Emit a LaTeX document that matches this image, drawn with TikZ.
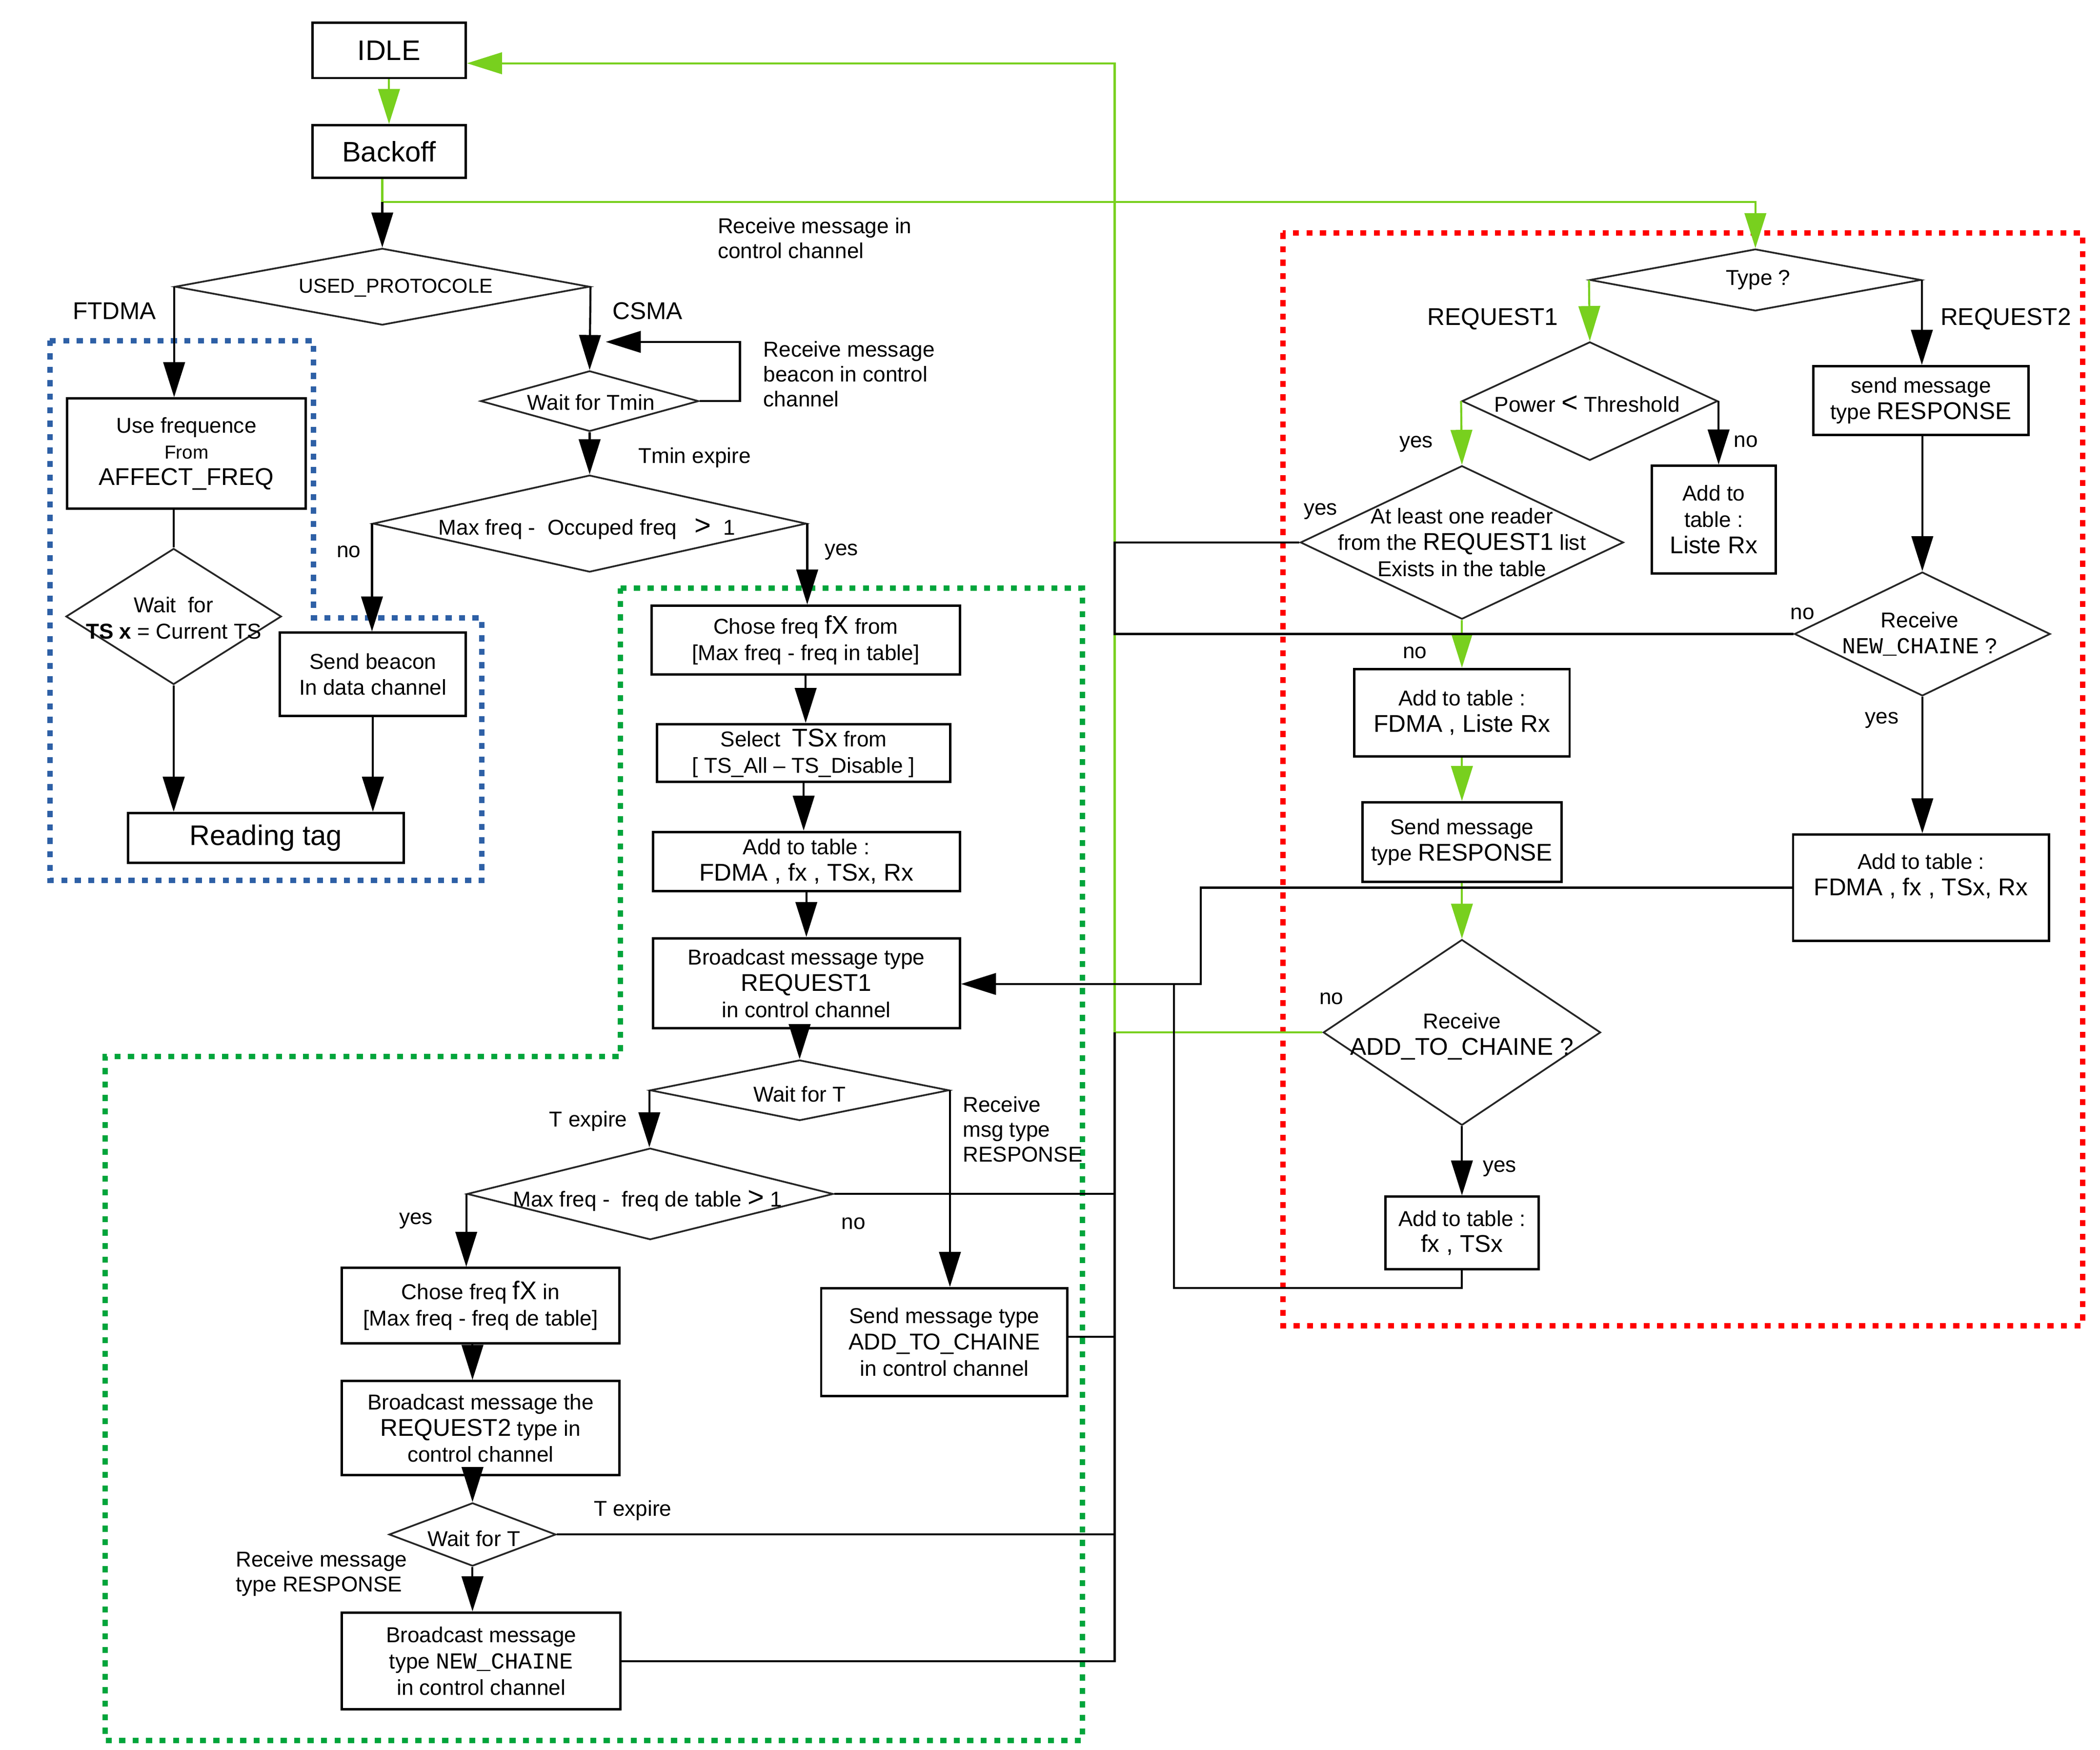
\documentclass[tikz,border=0pt]{standalone}
\usepackage{fontspec}
\setmainfont{Liberation Sans}
\newfontfamily\monof{Liberation Mono}
\usetikzlibrary{shapes.geometric,arrows.meta}
\definecolor{lgreen}{RGB}{120,208,30}
\definecolor{dgreen}{RGB}{0,165,60}
\definecolor{dblue}{RGB}{46,96,166}
\definecolor{dred}{RGB}{255,0,0}
\newcommand\fsz[1]{\fontsize{#1}{#1}\selectfont}
\tikzset{
  box/.style={draw, line width=1.8pt, fill=white, inner sep=0pt, align=center,
     font=\fontsize{16}{19.5}\selectfont},
  dia/.style={diamond, draw=black!85, line width=1.3pt, inner sep=0pt},
  dtxt/.style={inner sep=0pt, align=center, font=\fontsize{16}{19.5}\selectfont},
  lbl/.style={inner sep=0pt, align=left, font=\fontsize{16}{18.5}\selectfont},
  biglbl/.style={inner sep=0pt, font=\fontsize{18}{20}\selectfont},
  conn/.style={line width=1.5pt, -{Triangle[length=26pt,width=16pt]}},
  cline/.style={line width=1.5pt},
  gline/.style={line width=1.5pt, draw=lgreen},
  gconn/.style={gline, -{Triangle[length=26pt,width=16pt]}},
  dotbox/.style={line width=4pt, dash pattern=on 4.5pt off 5.5pt},
}
\begin{document}
\begin{tikzpicture}[x=1pt,y=-1pt]
\useasboundingbox (0,0) rectangle (1560,1300);

% dotted group frames
\draw[dotbox, draw=dblue] (37,253) -- (233,253) -- (233,459) -- (358,459) -- (358,654) -- (37,654) -- cycle;
\draw[dotbox, draw=dgreen] (461,437) -- (804,437) -- (804,1293) -- (78,1293) -- (78,785) -- (461,785) -- cycle;
\draw[dotbox, draw=dred] (953,173) rectangle (1547,985);

% boxes
\node[box, minimum width=114pt, minimum height=41pt, font=\fsz{21}] (idle) at (289,37.5) {IDLE};
\node[box, minimum width=114pt, minimum height=39pt, font=\fsz{21}] (back) at (289,112.5) {Backoff};
\node[box, minimum width=177pt, minimum height=82pt] (usefreq) at (138.5,337) {Use frequence\\{\fsz{14}From}\\{\fsz{18}AFFECT\_FREQ}};
\node[box, minimum width=205pt, minimum height=37pt, font=\fsz{21}] (reading) at (197.5,622.5) {Reading tag};
\node[box, minimum width=138pt, minimum height=62pt] (beacon) at (277,501) {Send beacon\\In data channel};
\node[box, minimum width=229pt, minimum height=51pt] (chose1) at (598.5,475.5) {Chose freq {\fsz{19}fX} from\\{[Max freq - freq in table]}};
\node[box, minimum width=218pt, minimum height=43pt] (select) at (597,559.5) {Select\ \ {\fsz{19}TSx} from\\{[ TS\_All – TS\_Disable ]}};
\node[box, minimum width=228pt, minimum height=44pt] (addt1) at (599,640) {Add to table :\\{\fsz{18}FDMA , fx , TSx, Rx}};
\node[box, minimum width=228pt, minimum height=67pt] (bcast1) at (599,730.5) {Broadcast message type\\{\fsz{18}REQUEST1}\\in control channel};
\node[box, minimum width=206pt, minimum height=56pt] (chose2) at (357,970) {Chose freq {\fsz{19}fX} in\\{[Max freq - freq de table]}};
\node[box, minimum width=206pt, minimum height=70pt] (bcast2) at (357,1061) {Broadcast message the\\{\fsz{18}REQUEST2} type in\\control channel};
\node[box, minimum width=207pt, minimum height=72pt] (bcastnc) at (357.5,1234) {Broadcast message\\type {\monof\fsz{17}NEW\_CHAINE}\\in control channel};
\node[box, minimum width=183pt, minimum height=80pt] (sendatc) at (701.5,997) {Send message type\\{\fsz{17}ADD\_TO\_CHAINE}\\in control channel};
\node[box, minimum width=92pt, minimum height=80pt] (addliste) at (1273,386) {Add to\\table :\\{\fsz{18}Liste Rx}};
\node[box, minimum width=160pt, minimum height=51pt] (sendresp1) at (1427,297.5) {send message\\type {\fsz{18}RESPONSE}};
\node[box, minimum width=160pt, minimum height=65pt] (addfl) at (1086,529.5) {Add to table :\\{\fsz{18}FDMA , Liste Rx}};
\node[box, minimum width=148pt, minimum height=59pt] (sendresp2) at (1086,625.5) {Send message\\type {\fsz{18}RESPONSE}};
\node[box, minimum width=190pt, minimum height=79pt] (addffx) at (1427,659.5) {Add to table :\\{\fsz{18}FDMA , fx , TSx, Rx}\\\mbox{}};
\node[box, minimum width=114pt, minimum height=54pt] (addfxts) at (1086,916) {Add to table :\\{\fsz{18}fx , TSx}};

% diamonds
\node[dia, minimum width=308pt, minimum height=57pt] (dproto) at (284,213) {};
\node[dtxt, font=\fsz{15}] (tproto) at (294,214) {USED\_PROTOCOLE};
\node[dia, minimum width=162pt, minimum height=45pt] (dtmin) at (438,298) {};
\node[dtxt] (ttmin) at (439,299) {Wait for Tmin};
\node[dia, minimum width=322pt, minimum height=72pt] (dmax1) at (438,389) {};
\node[dtxt] (tmax1) at (436,393) {Max freq -\ \ Occuped freq\ \ \ {\fsz{21}>}\ \ 1};
\node[dia, minimum width=160pt, minimum height=101pt] (dwts) at (129,458) {};
\node[dtxt] (twts) at (129,459) {Wait\ \ for\\{\bfseries TS x} = Current TS};
\node[dia, minimum width=222pt, minimum height=45pt] (dwt1) at (594,810) {};
\node[dtxt] (twt1) at (594,813) {Wait for T};
\node[dia, minimum width=272pt, minimum height=68pt] (dmax2) at (483,887) {};
\node[dtxt] (tmax2) at (481,892) {Max freq -\ \ freq de table {\fsz{21}>} 1};
\node[dia, minimum width=124pt, minimum height=47pt] (dwt2) at (351,1140) {};
\node[dtxt] (twt2) at (352,1143) {Wait for T};
\node[dia, minimum width=246pt, minimum height=46pt] (dtype) at (1304,208) {};
\node[dtxt] (ttype) at (1306,208) {Type ?};
\node[dia, minimum width=190pt, minimum height=88pt] (dpow) at (1181,298) {};
\node[dtxt] (tpow) at (1179,300) {Power {\fsz{21}<} Threshold};
\node[dia, minimum width=240pt, minimum height=114pt] (dleast) at (1086,403) {};
\node[dtxt] (tleast) at (1086,403) {At least one reader\\from the {\fsz{18}REQUEST1} list\\Exists in the table};
\node[dia, minimum width=190pt, minimum height=92pt] (dnewch) at (1428,471) {};
\node[dtxt] (tnewch) at (1426,471) {Receive\\{\monof\fsz{17}NEW\_CHAINE} ?};
\node[dia, minimum width=206pt, minimum height=138pt] (dadd) at (1086,767) {};
\node[dtxt] (tadd) at (1086,770) {Receive\\{\fsz{18}ADD\_TO\_CHAINE ?}};

% labels
\node[lbl, anchor=west] (lrmcc) at (533,177) {Receive message in\\control channel};
\node[lbl, anchor=west] (lrmb) at (567,278) {Receive message\\beacon in control\\channel};
\node[biglbl] (lftdma) at (85,231) {FTDMA};
\node[biglbl] (lcsma) at (481,231) {CSMA};
\node[lbl] (ltmin) at (516,340) {Tmin expire};
\node[lbl] (lno1) at (259,410) {no};
\node[lbl] (lyes1) at (625,410) {yes};
\node[lbl] (ltexp1) at (437,833) {T expire};
\node[lbl, anchor=west] (lrmr) at (715,839) {Receive\\msg type\\RESPONSE};
\node[lbl] (lyes2) at (309,907) {yes};
\node[lbl] (lno2) at (634,909) {no};
\node[lbl] (ltexp2) at (470,1122) {T expire};
\node[lbl, anchor=west] (lrmtr) at (175,1169) {Receive message\\type RESPONSE};
\node[biglbl] (lreq1) at (1109,237) {REQUEST1};
\node[biglbl] (lreq2) at (1490,237) {REQUEST2};
\node[lbl] (lyes3) at (1052,330) {yes};
\node[lbl] (lno3) at (1297,328) {no};
\node[lbl] (lyes4) at (981,380) {yes};
\node[lbl] (lno4) at (1051,485) {no};
\node[lbl] (lno5) at (1339,456) {no};
\node[lbl] (lyes5) at (1398,535) {yes};
\node[lbl] (lno6) at (989,742) {no};
\node[lbl] (lyes6) at (1114,868) {yes};

% helper coordinates
\coordinate (j1) at (284,150);
\coordinate (xr) at (828,47);
\coordinate (tl) at (450,254);
\coordinate (k1) at (892,731);
\coordinate (k2) at (872,957);

% green connectors
\draw[gconn] (idle.south) -- (back.north);
\draw[gline] (j1 |- back.south) -- (j1);
\draw[gconn] (j1) -- (j1 -| dtype.north) -- (dtype.north);
\draw[gconn] (dadd.west -| xr) -- (xr) -- (xr -| idle.east);
\draw[gline] (dadd.west) -- (dadd.west -| xr);
\draw[gconn] (dtype.west) -- (dpow.north);
\draw[gconn] (dpow.west) -- (dleast.north);
\draw[gconn] (dleast.south) -- (addfl.north);
\draw[gconn] (addfl.south) -- (sendresp2.north);
\draw[gconn] (sendresp2.south) -- (dadd.north);

% black connectors
\draw[conn] (j1) -- (dproto.north);
\draw[conn] (dproto.west) -- (dproto.west |- usefreq.north);
\draw[cline] (dwts.north |- usefreq.south) -- (dwts.north);
\draw[conn] (dwts.south) -- (dwts.south |- reading.north);
\draw[conn] (dproto.east) -- (dtmin.north);
\draw[conn] (dtmin.east) -- ++(30,0) |- (tl);
\draw[conn] (dtmin.south) -- (dmax1.north);
\draw[conn] (dmax1.west) -- (dmax1.west |- beacon.north);
\draw[conn] (beacon.south) -- (beacon.south |- reading.north);
\draw[conn] (dmax1.east) -- (dmax1.east |- chose1.north);
\draw[conn] (chose1.south) -- (chose1.south |- select.north);
\draw[conn] (select.south) -- (select.south |- addt1.north);
\draw[conn] (addt1.south) -- (addt1.south |- bcast1.north);
\draw[conn] (dwt1.north |- bcast1.south) -- (dwt1.north);
\draw[conn] (dwt1.west) -- (dwt1.west |- dmax2.north);
\draw[conn] (dwt1.east) -- (dwt1.east |- sendatc.north);
\draw[conn] (dmax2.west) -- (dmax2.west |- chose2.north);
\draw[conn] (dwt2.north |- chose2.south) -- (dwt2.north |- bcast2.north);
\draw[conn] (dwt2.north |- bcast2.south) -- (dwt2.north);
\draw[conn] (dwt2.south) -- (dwt2.south |- bcastnc.north);
\draw[cline] (dmax2.east) -- (dmax2.east -| xr);
\draw[cline] ([yshift=4pt]sendatc.east) -- ([yshift=4pt]sendatc.east -| xr);
\draw[cline] (dwt2.east) -- (dwt2.east -| xr);
\draw[cline] (bcastnc.east) -- (bcastnc.east -| xr) -- (xr |- dadd.west);
\draw[cline] (dleast.west) -- (dleast.west -| xr) -- (xr |- dnewch.west) -- (dnewch.west);
\draw[conn] (dtype.east) -- (dtype.east |- sendresp1.north);
\draw[conn] (dpow.east) -- (dpow.east |- addliste.north);
\draw[conn] (dadd.south) -- (addfxts.north);
\draw[conn] (dnewch.north |- sendresp1.south) -- (dnewch.north);
\draw[conn] (dnewch.south) -- (dnewch.south |- addffx.north);
\draw[conn] (addffx.west) -| (k1) -- (k1 -| bcast1.east);
\draw[cline] (addfxts.south) |- (k2) -- (k2 |- k1);
\end{tikzpicture}
\end{document}
